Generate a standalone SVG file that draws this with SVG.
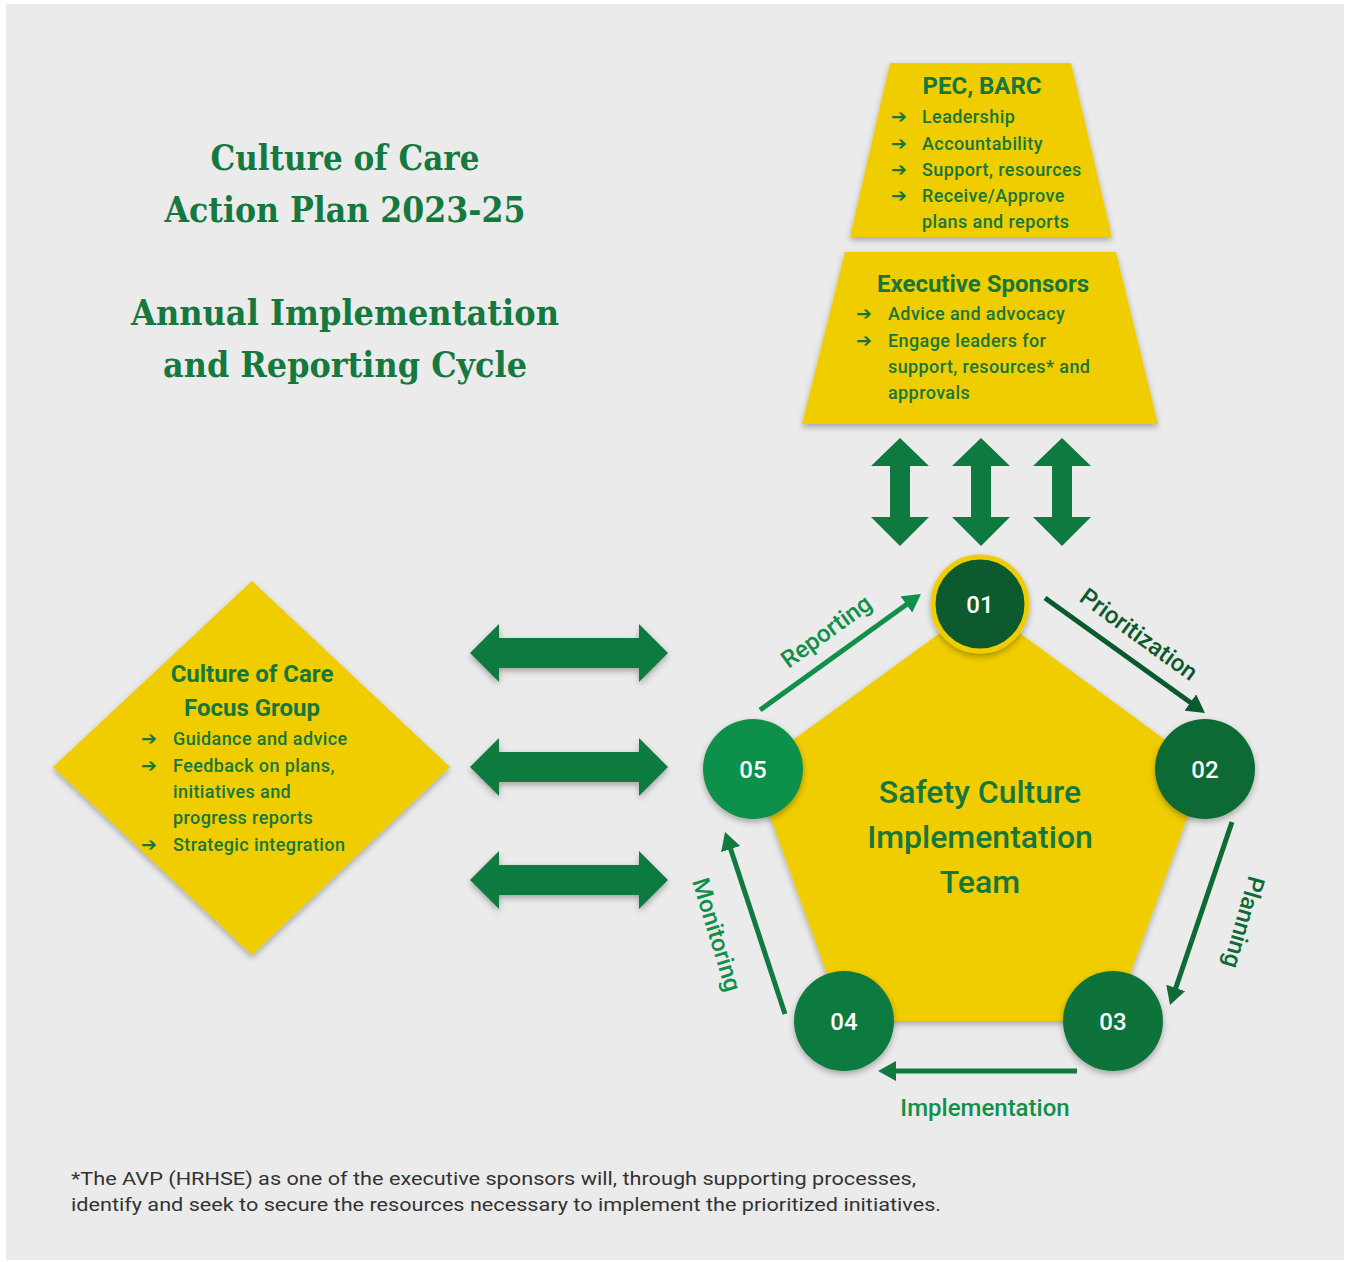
<svg xmlns="http://www.w3.org/2000/svg" width="1347" height="1262" viewBox="0 0 1347 1262">
<style>
  .yel { fill: #efcd00; }
  .title { font-family: "DejaVu Serif", "Liberation Serif", serif; font-weight: bold; font-size: 36px; fill: #15793f; text-anchor: middle; }
  .head { font-family: Roboto, "Liberation Sans", sans-serif; font-weight: 700; font-size: 24px; fill: #16773c; text-anchor: middle; }
  .item { font-family: Roboto, "Liberation Sans", sans-serif; font-weight: 500; font-size: 18px; letter-spacing: 0.4px; fill: #16773c; }
  .bul { font-family: "DejaVu Sans", sans-serif; font-weight: bold; font-size: 19px; fill: #16773c; }
  .center { font-family: Roboto, "Liberation Sans", sans-serif; font-weight: 500; font-size: 32px; fill: #16773c; text-anchor: middle; }
  .num { font-family: Roboto, "Liberation Sans", sans-serif; font-weight: 500; font-size: 24px; fill: #ffffff; text-anchor: middle; }
  .lbl { font-family: Roboto, "Liberation Sans", sans-serif; font-weight: 500; font-size: 24px; text-anchor: middle; }
  .foot { font-family: Roboto, "Liberation Sans", sans-serif; font-size: 19px; fill: #333333; }
  .big { fill: #0e7a40; }
  .cyc { fill: none; stroke-width: 5; }
</style>
<defs>
  <filter id="sh" x="-20%" y="-20%" width="140%" height="140%">
    <feDropShadow dx="0" dy="3" stdDeviation="3" flood-color="#000" flood-opacity="0.3"/>
  </filter>
  <marker id="mA" viewBox="0 0 18 20" refX="4" refY="10" markerWidth="18" markerHeight="20" markerUnits="userSpaceOnUse" orient="auto"><path d="M0,0 L18,10 L0,20 z" fill="#12904a"/></marker>
  <marker id="mB" viewBox="0 0 18 20" refX="4" refY="10" markerWidth="18" markerHeight="20" markerUnits="userSpaceOnUse" orient="auto"><path d="M0,0 L18,10 L0,20 z" fill="#0b5a2d"/></marker>
  <marker id="mC" viewBox="0 0 18 20" refX="4" refY="10" markerWidth="18" markerHeight="20" markerUnits="userSpaceOnUse" orient="auto"><path d="M0,0 L18,10 L0,20 z" fill="#0e6b36"/></marker>
  <marker id="mD" viewBox="0 0 18 20" refX="4" refY="10" markerWidth="18" markerHeight="20" markerUnits="userSpaceOnUse" orient="auto"><path d="M0,0 L18,10 L0,20 z" fill="#107a3f"/></marker>
</defs>

<rect x="0" y="0" width="1347" height="1262" fill="#ffffff"/>
<rect x="6" y="4" width="1338" height="1256" fill="#ebebeb"/>

<g id="title">
  <text class="title" x="345" y="170" textLength="269" lengthAdjust="spacingAndGlyphs">Culture of Care</text>
  <text class="title" x="345" y="222" textLength="361" lengthAdjust="spacingAndGlyphs">Action Plan 2023-25</text>
  <text class="title" x="345" y="325" textLength="428" lengthAdjust="spacingAndGlyphs">Annual Implementation</text>
  <text class="title" x="345" y="377" textLength="364" lengthAdjust="spacingAndGlyphs">and Reporting Cycle</text>
</g>

<g id="pec-barc">
  <polygon class="yel" filter="url(#sh)" points="890,63 1071,63 1112,237 850,237"/>
  <text class="head" x="982" y="94">PEC, BARC</text>
  <text class="bul" x="891" y="123">➔</text><text class="item" x="922" y="123">Leadership</text>
  <text class="bul" x="891" y="150">➔</text><text class="item" x="922" y="150">Accountability</text>
  <text class="bul" x="891" y="176">➔</text><text class="item" x="922" y="176">Support, resources</text>
  <text class="bul" x="891" y="202">➔</text><text class="item" x="922" y="202">Receive/Approve</text>
  <text class="item" x="922" y="228">plans and reports</text>
</g>

<g id="executive-sponsors">
  <polygon class="yel" filter="url(#sh)" points="845,252 1116,252 1158,424 802,424"/>
  <text class="head" x="983" y="292">Executive Sponsors</text>
  <text class="bul" x="856" y="320">➔</text><text class="item" x="888" y="320">Advice and advocacy</text>
  <text class="bul" x="856" y="347">➔</text><text class="item" x="888" y="347">Engage leaders for</text>
  <text class="item" x="888" y="373">support, resources* and</text>
  <text class="item" x="888" y="399">approvals</text>
</g>

<g id="focus-group">
  <polygon class="yel" filter="url(#sh)" points="252,581 450,767 252,955 53,767"/>
  <text class="head" x="252" y="682">Culture of Care</text>
  <text class="head" x="252" y="716">Focus Group</text>
  <text class="bul" x="141" y="745">➔</text><text class="item" x="173" y="745">Guidance and advice</text>
  <text class="bul" x="141" y="772">➔</text><text class="item" x="173" y="772">Feedback on plans,</text>
  <text class="item" x="173" y="798">initiatives and</text>
  <text class="item" x="173" y="824">progress reports</text>
  <text class="bul" x="141" y="851">➔</text><text class="item" x="173" y="851">Strategic integration</text>
</g>

<g id="team">
  <polygon class="yel" filter="url(#sh)" points="980,604 1205,769 1113,1021 844,1021 753,769"/>
  <text class="center" x="980" y="803">Safety Culture</text>
  <text class="center" x="980" y="848">Implementation</text>
  <text class="center" x="980" y="893">Team</text>
</g>

<g id="step-01"><circle cx="980" cy="604" r="47" fill="#0b5a2d" stroke="#efcd00" stroke-width="5" filter="url(#sh)"/><text class="num" x="980" y="613">01</text></g>
<g id="step-02"><circle cx="1205" cy="769" r="50" fill="#0d6b36" filter="url(#sh)"/><text class="num" x="1205" y="778">02</text></g>
<g id="step-03"><circle cx="1113" cy="1021" r="50" fill="#0e733b" filter="url(#sh)"/><text class="num" x="1113" y="1030">03</text></g>
<g id="step-04"><circle cx="844" cy="1021" r="50" fill="#0e7a3f" filter="url(#sh)"/><text class="num" x="844" y="1030">04</text></g>
<g id="step-05"><circle cx="753" cy="769" r="50" fill="#0f9049" filter="url(#sh)"/><text class="num" x="753" y="778">05</text></g>

<g id="connectors">
  <path class="big" d="M900,438 L929,466 L910,466 L910,517 L929,517 L900,546 L871,517 L890,517 L890,466 L871,466 Z"/>
  <path class="big" d="M981,438 L1010,466 L991,466 L991,517 L1010,517 L981,546 L952,517 L971,517 L971,466 L952,466 Z"/>
  <path class="big" d="M1062,438 L1091,466 L1072,466 L1072,517 L1091,517 L1062,546 L1033,517 L1052,517 L1052,466 L1033,466 Z"/>

  <path class="big" filter="url(#sh)" d="M470,653 L499,624 L499,638 L639,638 L639,624 L668,653 L639,682 L639,668 L499,668 L499,682 Z"/>
  <path class="big" filter="url(#sh)" d="M470,767 L499,738 L499,752 L639,752 L639,738 L668,767 L639,796 L639,782 L499,782 L499,796 Z"/>
  <path class="big" filter="url(#sh)" d="M470,880 L499,851 L499,865 L639,865 L639,851 L668,880 L639,909 L639,895 L499,895 L499,909 Z"/>

  <line class="cyc" stroke="#12904a" x1="760" y1="710" x2="909.6" y2="602.2" marker-end="url(#mA)"/>
  <line class="cyc" stroke="#0b5a2d" x1="1045" y1="598" x2="1193.6" y2="704.8" marker-end="url(#mB)"/>
  <line class="cyc" stroke="#0e6b36" x1="1232" y1="822" x2="1174.5" y2="991.7" marker-end="url(#mC)"/>
  <line class="cyc" stroke="#107a3f" x1="1077" y1="1071" x2="892" y2="1071" marker-end="url(#mD)"/>
  <line class="cyc" stroke="#107a3f" x1="785" y1="1014" x2="729.4" y2="845.3" marker-end="url(#mD)"/>

  <text class="lbl" fill="#12904a" transform="translate(831,638) rotate(-36)">Reporting</text>
  <text class="lbl" fill="#0b5a2d" transform="translate(1134,641) rotate(36)">Prioritization</text>
  <text class="lbl" fill="#0e6b36" transform="translate(1236,920) rotate(106)">Planning</text>
  <text class="lbl" fill="#12904a" x="985" y="1116">Implementation</text>
  <text class="lbl" fill="#12904a" transform="translate(709,937) rotate(73)">Monitoring</text>
</g>

<g id="footnote">
  <text class="foot" x="71" y="1185" textLength="845" lengthAdjust="spacingAndGlyphs">*The AVP (HRHSE) as one of the executive sponsors will, through supporting processes,</text>
  <text class="foot" x="71" y="1211" textLength="870" lengthAdjust="spacingAndGlyphs">identify and seek to secure the resources necessary to implement the prioritized initiatives.</text>
</g>
</svg>
